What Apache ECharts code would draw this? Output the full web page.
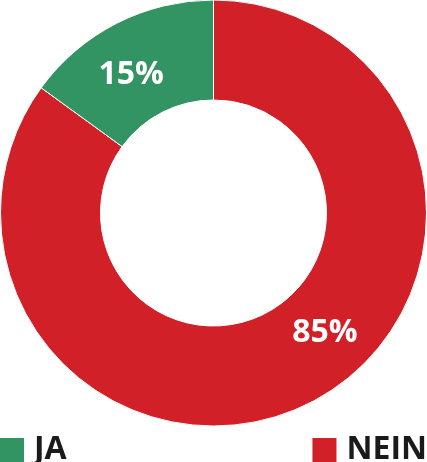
<!DOCTYPE html>
<html>
<head>
<meta charset="utf-8">
<script src="https://cdn.jsdelivr.net/npm/echarts@6/dist/echarts.min.js"></script>
<style>html,body{margin:0;padding:0;background:#fff;}#c{width:427px;height:462px;}</style>
</head>
<body>
<div id="c"></div>
<script>
var categories = ['NEIN', 'JA'];
var values = [85, 15];
var colors = ['#d12028', '#339463'];
var labelShift = [[36, -28], [-7, 10]];

var chart = echarts.init(document.getElementById('c'), null, {renderer: 'canvas'});
var legendText = {fontFamily: 'Open Sans', fontWeight: 'bold', fontSize: 32, color: '#1a1a1a', lineHeight: 24, padding: [0, 0, 0, 5]};
var legendItem = {borderWidth: 0};
chart.setOption({
  animation: false,
  color: colors,
  legend: [
    {data: ['JA'], left: 0, top: 434, itemWidth: 24, itemHeight: 24, icon: 'rect', itemStyle: legendItem, textStyle: legendText, padding: 0},
    {data: ['NEIN'], right: 0, top: 434, itemWidth: 24, itemHeight: 24, icon: 'rect', itemStyle: legendItem, textStyle: legendText, padding: 0}
  ],
  series: [{
    type: 'pie',
    center: [213.5, 213],
    radius: [113, 213],
    startAngle: 90,
    clockwise: true,
    silent: true,
    itemStyle: {borderColor: '#ffffff', borderWidth: 1},
    label: {
      show: true,
      position: 'inside',
      formatter: '{c}%',
      fontFamily: 'Open Sans',
      fontWeight: 'bold',
      fontSize: 32,
      color: '#ffffff'
    },
    labelLayout: function (p) {
      return {dx: labelShift[p.dataIndex][0], dy: labelShift[p.dataIndex][1]};
    },
    labelLine: {show: false},
    data: categories.map(function (c, i) { return {name: c, value: values[i]}; })
  }]
});
</script>
</body>
</html>
